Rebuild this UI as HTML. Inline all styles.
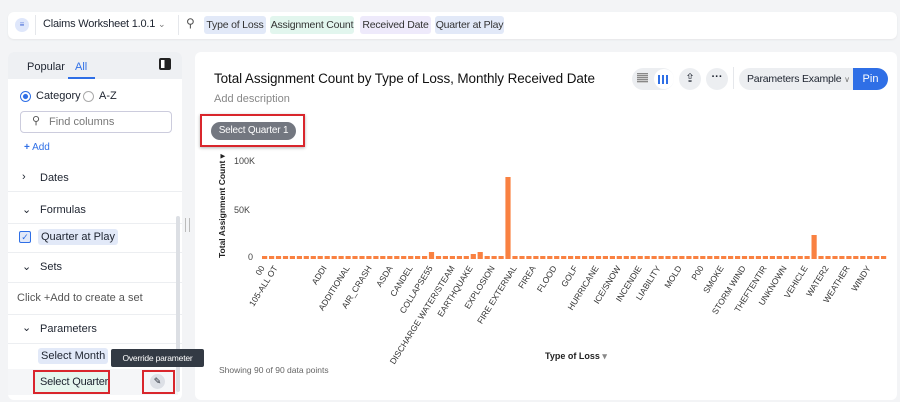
<!DOCTYPE html>
<html><head><meta charset="utf-8"><style>
*{box-sizing:border-box;margin:0;padding:0}
body{width:900px;height:402px;background:#f3f4f6;font-family:"Liberation Sans",sans-serif;position:relative;overflow:hidden;color:#1d232f}
.abs{position:absolute;white-space:nowrap}
.chip{position:absolute;top:16px;height:18px;font-size:10.5px;line-height:18px;text-align:center;border-radius:3px;color:#333;white-space:nowrap;letter-spacing:-0.2px}
.row{position:absolute;left:8px;width:174px;border-bottom:1px solid #eceef1;font-size:11px}
</style></head><body>
<div class="abs" style="left:8px;top:12px;width:889px;height:27px;background:#fff;border-radius:6px;box-shadow:0 1px 2px rgba(0,0,0,.06)"></div>
<div class="abs" style="left:15px;top:18px;width:14px;height:14px;border-radius:7px;background:#dfe7fb;color:#4a6fd8;font-size:8px;text-align:center;line-height:14px">≡</div>
<div class="abs" style="left:35px;top:15px;width:1px;height:20px;background:#e5e7eb"></div>
<div class="abs" style="left:43px;top:18px;font-size:11px;letter-spacing:-0.2px">Claims Worksheet 1.0.1 <span style="color:#777;font-size:9px">⌄</span></div>
<div class="abs" style="left:178px;top:15px;width:1px;height:20px;background:#e5e7eb"></div>
<div class="abs" style="left:186px;top:16px;font-size:12px;color:#555">⚲</div>
<div class="chip" style="left:204px;width:62px;background:#e2e9f8">Type of Loss</div>
<div class="chip" style="left:270px;width:84px;background:#e2f6ee">Assignment Count</div>
<div class="chip" style="left:360px;width:71px;background:#eeeafb">Received Date</div>
<div class="chip" style="left:435px;width:69px;background:#e2e9f8">Quarter at Play</div>

<div class="abs" style="left:8px;top:52px;width:174px;height:348px;background:#fff;border-radius:6px"></div>
<div class="abs" style="left:8px;top:52px;width:174px;height:27px;background:#eef0f3;border-radius:6px 6px 0 0"></div>
<div class="abs" style="left:27px;top:61px;font-size:11px">Popular</div>
<div class="abs" style="left:75px;top:61px;font-size:11px;color:#2f6fe6">All</div>
<div class="abs" style="left:68px;top:77px;width:27px;height:2px;background:#2f6fe6"></div>
<div class="abs" style="left:159px;top:58px;width:12px;height:12px;border:2px solid #222;border-radius:2px;background:linear-gradient(90deg,#fff 45%,#222 45%)"></div>
<div class="abs" style="left:20px;top:91px;width:11px;height:11px;border-radius:6px;border:1.5px solid #2f6fe6;background:radial-gradient(#2f6fe6 35%,#fff 45%)"></div>
<div class="abs" style="left:36px;top:90px;font-size:11px">Category</div>
<div class="abs" style="left:83px;top:91px;width:11px;height:11px;border-radius:6px;border:1px solid #aaa"></div>
<div class="abs" style="left:99px;top:90px;font-size:11px">A-Z</div>
<div class="abs" style="left:20px;top:111px;width:152px;height:22px;border:1px solid #ccd;border-radius:4px;font-size:11px;color:#777;padding:4px 0 0 28px">Find columns</div>
<div class="abs" style="left:32px;top:114px;font-size:11px;color:#555">⚲</div>
<div class="abs" style="left:24px;top:142px;font-size:10px;color:#2f6fe6"><b>+</b> Add</div>
<div class="row" style="top:165px;height:27px"><span class="abs" style="left:14px;top:6px">›</span><span class="abs" style="left:32px;top:7px">Dates</span></div>
<div class="row" style="top:197px;height:27px"><span class="abs" style="left:14px;top:6px">⌄</span><span class="abs" style="left:32px;top:7px">Formulas</span></div>
<div class="row" style="top:224px;height:29px"><span class="abs" style="left:11px;top:7px;width:12px;height:12px;border:1px solid #2f6fe6;border-radius:2px;background:#e2e9f8;font-size:9px;color:#2f6fe6;text-align:center;line-height:11px">✓</span><span class="abs" style="left:30px;top:5px;background:#e2e9f8;padding:2px 3px;border-radius:3px">Quarter at Play</span></div>
<div class="row" style="top:253px;height:30px"><span class="abs" style="left:14px;top:7px">⌄</span><span class="abs" style="left:32px;top:8px">Sets</span></div>
<div class="row" style="top:283px;height:32px;color:#555"><span class="abs" style="left:9px;top:9px">Click +Add to create a set</span></div>
<div class="row" style="top:315px;height:29px"><span class="abs" style="left:14px;top:6px">⌄</span><span class="abs" style="left:32px;top:8px">Parameters</span></div>
<div class="abs" style="left:38px;top:348px;font-size:11px;background:#e2e9f8;padding:2px 3px;border-radius:3px">Select Month</div>
<div class="abs" style="left:8px;top:369px;width:170px;height:26px;background:#f5f6f8"></div>
<div class="abs" style="left:33px;top:370px;width:77px;height:24px;border:2px solid #d9262c;background:#e6f6ee;font-size:11px;padding:4px 0 0 5px;letter-spacing:-0.2px">Select Quarter</div>
<div class="abs" style="left:142px;top:370px;width:33px;height:24px;border:2px solid #d9262c"></div>
<div class="abs" style="left:150px;top:374px;width:15px;height:15px;border-radius:8px;background:#dde0e6;font-size:9px;text-align:center;line-height:15px">✎</div>
<div class="abs" style="left:176px;top:216px;width:4px;height:176px;background:#dcdfe4;border-radius:2px"></div>
<div class="abs" style="left:185px;top:218px;width:5px;height:14px;border-left:1px solid #bbb;border-right:1px solid #bbb"></div>

<div class="abs" style="left:195px;top:52px;width:702px;height:348px;background:#fff;border-radius:6px"></div>
<div class="abs" style="left:111px;top:349px;width:93px;height:18px;background:#333a44;color:#fff;font-size:8.5px;line-height:18px;text-align:center;border-radius:2px;letter-spacing:-0.2px">Override parameter</div>
<div class="abs" style="left:214px;top:71px;font-size:13.5px;color:#111;letter-spacing:-0.1px">Total Assignment Count by Type of Loss, Monthly Received Date</div>
<div class="abs" style="left:214px;top:93px;font-size:11px;color:#888">Add description</div>
<div class="abs" style="left:200px;top:114px;width:105px;height:33px;border:2px solid #d9262c;box-shadow:0 1px 3px rgba(0,0,0,.3)"></div>
<div class="abs" style="left:211px;top:122px;width:85px;height:18px;border-radius:9px;background:#737780;color:#fff;font-size:10px;line-height:18px;text-align:center;letter-spacing:-0.2px">Select Quarter 1</div>
<div class="abs" style="left:632px;top:68px;width:42px;height:22px;border-radius:11px;background:#eceef1"></div>
<div class="abs" style="left:654px;top:69px;width:20px;height:20px;border-radius:10px;background:#fff"></div>
<div class="abs" style="left:637px;top:73px;width:11px;height:10px;background:repeating-linear-gradient(#888 0 1px,#ccc 1px 2px)"></div>
<div class="abs" style="left:658px;top:75px;width:11px;height:9px;background:linear-gradient(90deg,#2f6fe6 0 2px,transparent 2px 4px,#2f6fe6 4px 6px,transparent 6px 8px,#2f6fe6 8px 10px,transparent 10px)"></div>
<div class="abs" style="left:679px;top:68px;width:22px;height:22px;border-radius:11px;background:#eceef1;font-size:12px;text-align:center;line-height:21px">⇪</div>
<div class="abs" style="left:706px;top:68px;width:22px;height:22px;border-radius:11px;background:#eceef1;font-size:11px;text-align:center;line-height:18px;font-weight:bold">···</div>
<div class="abs" style="left:733px;top:67px;width:1px;height:22px;background:#e5e7eb"></div>
<div class="abs" style="left:739px;top:68px;width:120px;height:22px;border-radius:11px 0 0 11px;background:#eceef1;font-size:10.5px;line-height:22px;padding-left:8px;letter-spacing:-0.2px">Parameters Example <span style="color:#777;font-size:8px">∨</span></div>
<div class="abs" style="left:853px;top:68px;width:35px;height:22px;border-radius:0 11px 11px 0;background:#2f6fe6;color:#fff;font-size:11px;line-height:22px;text-align:center">Pin</div>

<svg class="abs" style="left:0;top:0" width="900" height="402" font-family="Liberation Sans" font-size="9" fill="#444">
<text x="234" y="164" font-size="9">100K</text>
<text x="234" y="213" font-size="9">50K</text>
<text x="248" y="260" font-size="9">0</text>
<text transform="translate(225,258) rotate(-90)" font-size="8.5" font-weight="bold" fill="#222">Total Assignment Count ▾</text>
<g fill="#f98141" id="bars"></g>
<g id="labs" font-size="8.5" fill="#333" text-anchor="end"></g>
<text x="545" y="359" font-size="9" font-weight="bold" fill="#222">Type of Loss <tspan fill="#888">▾</tspan></text>
<text x="219" y="373" font-size="8.5" fill="#666">Showing 90 of 90 data points</text>
</svg>
<script>
(function(){
var NS="http://www.w3.org/2000/svg";
var g=document.getElementById('bars');
var x0=262,x1=888,n=90,p=(x1-x0)/n;
for(var i=0;i<n;i++){var x=x0+i*p,top=256;
if(Math.abs(x-505)<3.5)top=177;else if(Math.abs(x-809)<3.5)top=235;else if(Math.abs(x-430)<3.5)top=252;else if(Math.abs(x-472)<3)top=254;else if(Math.abs(x-478)<3)top=252;
var r=document.createElementNS(NS,'rect');r.setAttribute('x',x.toFixed(1));r.setAttribute('y',top);r.setAttribute('width',(p-1.8).toFixed(1));r.setAttribute('height',259-top);g.appendChild(r);}
var L=[["00",265],["105-ALL OT",278],["ADDI",327],["ADDITIONAL",350],["AIR_CRASH",372],["ASDA",393],["CANDEL",413],["COLLAPSE55",433],["DISCHARGE WATER/STEAM",455],["EARTHQUAKE",473],["EXPLOSION",495],["FIRE EXTERNAL",517],["FIREA",536],["FLOOD",557],["GOLF",578],["HURRICANE",599],["ICE/SNOW",621],["INCENDIE",642],["LIABILITY",661],["MOLD",682],["P00",704],["SMOKE",724],["STORM WIND",746],["THEFTENTIR",767],["UNKNOWN",787],["VEHICLE",808],["WATER2",829],["WEATHER",850],["WINDY",871]];
var lg=document.getElementById('labs');
L.forEach(function(a){var t=document.createElementNS(NS,'text');t.setAttribute('transform','translate('+a[1]+',268) rotate(-58)');t.textContent=a[0];lg.appendChild(t);});
})();
</script>
</body></html>
